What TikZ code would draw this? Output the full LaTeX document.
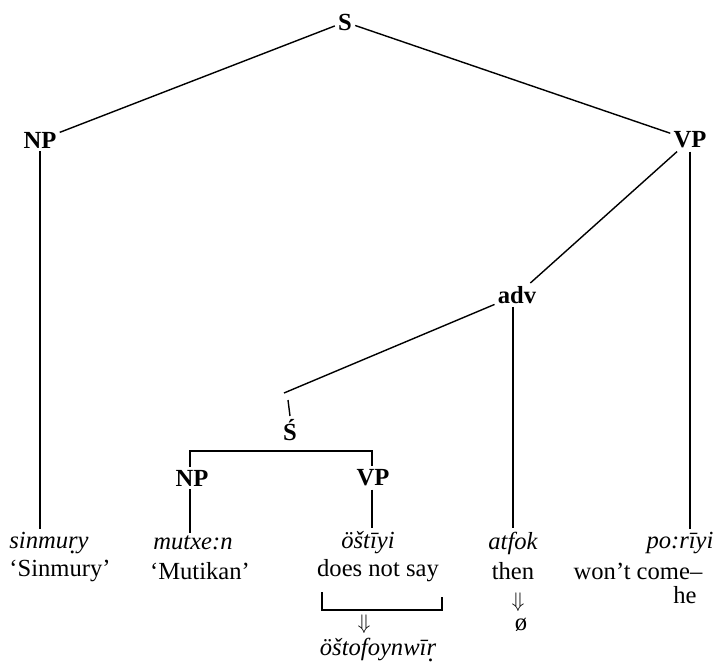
\documentclass[tikz,border=0pt]{standalone}
\usepackage{fontspec}
\setmainfont{Liberation Serif}
\newcommand{\sz}{\fontsize{14}{16.8}\selectfont}
\newcommand{\rd}{\ooalign{r\cr\hidewidth\raisebox{-0.5ex}{.}\hidewidth\cr}}

\begin{document}
\begin{tikzpicture}[x=0.02cm,y=-0.02cm,line width=0.8pt,inner sep=1.5pt,every node/.style={font=\sz},cat/.style={font=\sz\bfseries},word/.style={font=\sz\itshape},darr/.style={font=\fontsize{13}{15}\selectfont,inner sep=0pt}]
	\useasboundingbox (0,0) rectangle (718,666);
	% categories
	\node[cat] (S) at (345,22) {S};
	\node[cat] (NP) at (40,140) {NP};
	\node[cat] (VP) at (690,140) {VP};
	\node[cat] (adv) at (517,295) {adv};
	\node[cat] (Sb) at (290,430) {\'S};
	\node[cat] (np) at (192,478) {NP};
	\node[cat] (vp) at (373,478) {VP};
	% words
	\node[word] (sinmury) at (49,543) {sinmu\rd y};
	\node[word] (mutxen) at (193,543) {mutxe:n};
	\node[word] (ostiyi) at (368,543) {öštīyi};
	\node[word] (atfok) at (513,543) {atfok};
	\node[word] (poriyi) at (680,543) {po:rīyi};
	% glosses
	\node (gsin) at (60,571) {`Sinmury'};
	\node (gmut) at (200,571) {`Mutikan'};
	\node (gsay) at (378,571) {does not say};
	\node (gthen) at (513,571) {then};
	\node (gcome) at (638,571) {won't come--};
	\node (ghe) at (685,595) {he};
	\node[darr] (athen) at (518,602) {$\Downarrow$};
	\node (zero) at (521,625) {ø};
	\node[darr] (asay) at (364,624) {$\Downarrow$};
	\node[word] (ostof) at (378,650) {öštofoynwī\rd};
	% branches
	\draw (S) -- (NP);
	\draw (S) -- (VP);
	\draw (NP.south) -- (NP.south |- sinmury.north);
	\draw (VP.south) -- (VP.south |- poriyi.north);
	\draw (VP) -- (adv);
	\draw (adv.south -| atfok) -- (atfok.north);
	\coordinate (sk) at (284,393);
	\coordinate (tk) at (288,400);
	\draw (adv) -- (sk) (tk) -- (Sb.north);
	\coordinate (sl) at (190,451);
	\coordinate (sr) at (372,451);
	\draw (np.north -| sl) -- (sl) -- (sr) -- (vp.north -| sr);
	\draw (np.south -| sl) -- (sl |- mutxen.north);
	\draw (vp.south -| sr) -- (sr |- ostiyi.north);
	% bracket under does not say
	\draw (322,592) -- (322,610) -- (442,610) -- (442,597);
\end{tikzpicture}
\end{document}
